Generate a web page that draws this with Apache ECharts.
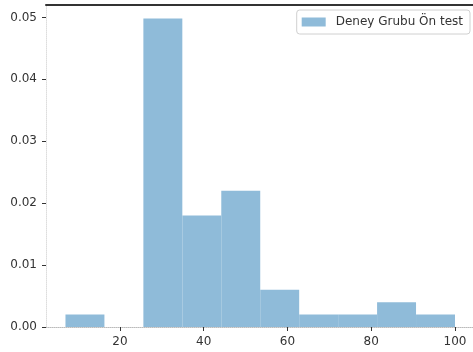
<!DOCTYPE html>
<html>
<head>
<meta charset="utf-8">
<script src="https://cdn.jsdelivr.net/npm/echarts@6/dist/echarts.min.js"></script>
<style>
  html, body { margin: 0; padding: 0; background: #fff; }
  #chart { width: 473px; height: 352px; }
</style>
</head>
<body>
<div id="chart"></div>
<script>
// Histogram bin edges (score) and density per bin
const binEdges = [7, 16.3, 25.6, 34.9, 44.2, 53.5, 62.8, 72.1, 81.4, 90.7, 100];
const densities = [0.0020, 0, 0.0498, 0.0180, 0.0220, 0.0060, 0.0020, 0.0020, 0.0040, 0.0020];
const xTicks = [20, 40, 60, 80, 100];
const yTicks = [0, 0.01, 0.02, 0.03, 0.04, 0.05];
const seriesName = 'Deney Grubu Ön test';

const bins = densities.map((d, i) => [binEdges[i], binEdges[i + 1], d]);

const FONT = 'DejaVu Sans';
const chart = echarts.init(document.getElementById('chart'), null, { renderer: 'canvas' });

chart.setOption({
  animation: false,
  backgroundColor: '#ffffff',
  grid: { left: 46, right: 0, top: 5, bottom: 25, containLabel: false },
  legend: {
    data: [{ name: seriesName, icon: 'rect' }],
    right: 3,
    top: 10,
    itemWidth: 24,
    itemHeight: 9,
    padding: [6, 7, 6, 5],
    borderColor: '#d0d0d0',
    borderWidth: 1,
    borderRadius: 3,
    backgroundColor: 'rgba(255,255,255,0.8)',
    textStyle: { fontFamily: FONT, fontSize: 12, color: '#333', padding: [0, 0, 0, 5] }
  },
  xAxis: [
    {
      type: 'value',
      min: 2.35,
      max: 104.3,
      splitLine: { show: false },
      axisLine: { show: true, lineStyle: { color: '#bbbbbb', width: 1, type: 'dotted' } },
      axisTick: { show: true, length: 4, lineStyle: { color: '#333' }, customValues: xTicks },
      axisLabel: { fontFamily: FONT, fontSize: 12, color: '#333', margin: 9, customValues: xTicks }
    },
    {
      type: 'value',
      position: 'top',
      min: 2.35,
      max: 104.3,
      splitLine: { show: false },
      axisLine: { show: true, lineStyle: { color: '#333', width: 2 } },
      axisTick: { show: false },
      axisLabel: { show: false }
    }
  ],
  yAxis: {
    type: 'value',
    min: 0,
    max: 0.052,
    splitLine: { show: false },
    axisLine: { show: true, lineStyle: { color: '#dddddd', width: 1, type: 'dotted' } },
    axisTick: { show: true, length: 4, lineStyle: { color: '#333' }, customValues: yTicks },
    axisLabel: {
      fontFamily: FONT, fontSize: 12, color: '#333', margin: 9,
      customValues: yTicks,
      formatter: v => v.toFixed(2)
    }
  },
  series: [{
    name: seriesName,
    type: 'custom',
    xAxisIndex: 0,
    itemStyle: { color: '#8fbbd9' },
    data: bins,
    encode: { x: [0, 1], y: 2 },
    renderItem: (params, api) => {
      const x0 = api.value(0), x1 = api.value(1), h = api.value(2);
      if (!h) return null;
      const p0 = api.coord([x0, h]);
      const p1 = api.coord([x1, 0]);
      return {
        type: 'rect',
        shape: { x: p0[0], y: p0[1], width: p1[0] - p0[0], height: p1[1] - p0[1] },
        style: { fill: '#8fbbd9' }
      };
    }
  }]
});
</script>
</body>
</html>
